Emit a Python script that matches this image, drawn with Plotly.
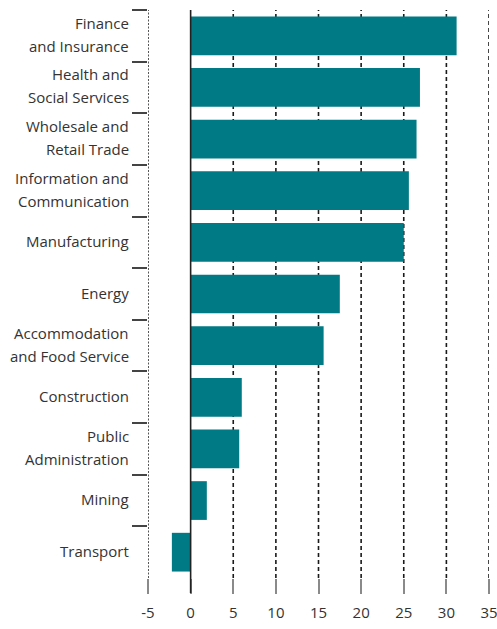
import plotly.graph_objects as go

categories = [
    "Finance<br>and Insurance",
    "Health and<br>Social Services",
    "Wholesale and<br>Retail Trade",
    "Information and<br>Communication",
    "Manufacturing",
    "Energy",
    "Accommodation<br>and Food Service",
    "Construction",
    "Public<br>Administration",
    "Mining",
    "Transport",
]
values = [31.2, 26.9, 26.5, 25.6, 25.0, 17.5, 15.6, 6.0, 5.7, 1.9, -2.2]
x_ticks = [-5, 0, 5, 10, 15, 20, 25, 30, 35]
x_range = [-5, 35]

BAR = "#007A84"
TXT = "#333333"
FONT = "Open Sans"

fig = go.Figure(
    go.Bar(
        x=values,
        y=categories,
        orientation="h",
        marker=dict(color=BAR, line=dict(width=0)),
        width=0.75,
    )
)

shapes = []
# dashed gridlines
for v in x_ticks:
    if v in (x_range[0], 0):
        continue
    shapes.append(dict(type="line", xref="x", yref="paper", x0=v, x1=v, y0=0, y1=1,
                       line=dict(color="#1a1a1a", width=1.6, dash="4px,3px"), layer="below"))
# dotted left axis line
shapes.append(dict(type="line", xref="x", yref="paper", x0=x_range[0], x1=x_range[0], y0=0, y1=1,
                   line=dict(color="#111111", width=1.4, dash="2px,1.5px"), layer="above"))
# zero line, extending through the tick
shapes.append(dict(type="line", xref="x", yref="paper", x0=0, x1=0, y0=-0.0265, y1=1,
                   line=dict(color="#222222", width=1.6), layer="above"))

# category labels as annotations (to control line spacing)
annotations = []
LINE_H = 23
for cat in categories:
    lines = cat.split("<br>")
    n = len(lines)
    for i, ln in enumerate(lines):
        annotations.append(dict(
            text=ln, xref="paper", yref="y", x=0, y=cat,
            xanchor="right", yanchor="middle", xshift=-17,
            yshift=((n - 1) / 2 - i) * LINE_H + 1.5,
            showarrow=False, font=dict(family=FONT, size=15, color=TXT),
        ))

fig.update_layout(
    width=497,
    height=629,
    margin=dict(l=148, r=8, t=10, b=51),
    paper_bgcolor="white",
    plot_bgcolor="white",
    showlegend=False,
    font=dict(family=FONT, size=15, color=TXT),
    shapes=shapes,
    annotations=annotations,
    xaxis=dict(
        range=x_range,
        tickvals=x_ticks,
        ticktext=[str(v) for v in x_ticks],
        showgrid=False,
        zeroline=False,
        showline=False,
        ticks="outside",
        ticklen=15,
        tickwidth=2,
        tickcolor="#8a8a8a",
        ticklabelstandoff=6,
        ticklabeloverflow="allow",
        tickfont=dict(family=FONT, size=15, color=TXT),
        automargin=False,
        fixedrange=True,
    ),
    yaxis=dict(
        categoryorder="array",
        categoryarray=categories,
        autorange="reversed",
        tickson="boundaries",
        ticks="outside",
        ticklen=15,
        tickwidth=1.5,
        tickcolor="#444444",
        showgrid=False,
        showline=False,
        zeroline=False,
        showticklabels=False,
        automargin=False,
        fixedrange=True,
    ),
)

fig.write_html(
    "out.html",
    config={"displayModeBar": False},
    post_script="document.documentElement.style.overflow='hidden';document.body.style.margin='0px';document.body.style.overflow='hidden';",
)
